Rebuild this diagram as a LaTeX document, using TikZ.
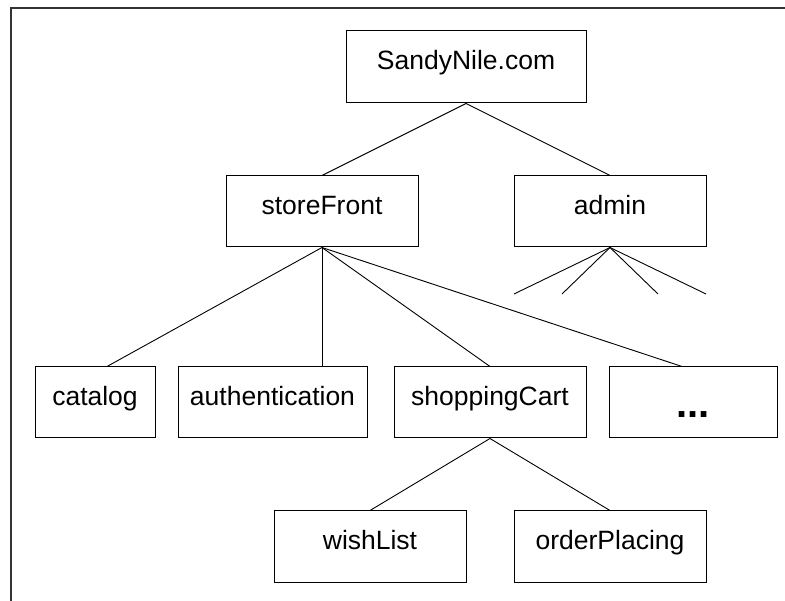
\documentclass[tikz,border=0pt]{standalone}
\usepackage{fontspec}
\setmainfont{Liberation Sans}
\begin{document}
\begin{tikzpicture}[x=1pt,y=-1pt,
  box/.style={draw=black, line width=1pt, inner sep=0pt, minimum height=71pt,
    text height=0.72em, text depth=0.21em,
    font=\fontsize{26.5}{30}\selectfont},
  link/.style={draw=black, line width=0.9pt}]
\useasboundingbox (0,0) rectangle (785,601);
\draw[line width=2pt, color=black!80] (11,601) -- (11,8) -- (785,8);

\node[box, minimum width=240pt, minimum height=72pt] (top) at (466,67) {SandyNile.com};
\node[box, minimum width=192pt] (sf) at (322,211.5) {storeFront};
\node[box, minimum width=192pt] (admin) at (610,211.5) {admin};
\node[box, minimum width=120pt] (catalog) at (95,402.5) {catalog};
\node[box, minimum width=189pt] (auth) at (272.5,402.5) {authentication};
\node[box, minimum width=192pt] (cart) at (490,402.5) {shoppingCart};
\node[box, minimum width=168pt] (more) at (693,402.5) {};
\node[font=\fontsize{40}{44}\selectfont\bfseries, inner sep=0pt, anchor=base] (dots) at (693,418) {...};
\node[box, minimum width=192pt] (wish) at (370,546.5) {wishList};
\node[box, minimum width=192pt] (order) at (610,546.5) {orderPlacing};

\coordinate (a1) at (514,294);
\coordinate (a2) at (562,294);
\coordinate (a3) at (658,294);
\coordinate (a4) at (706,294);

\draw[link] (top.south) -- (sf.north);
\draw[link] (top.south) -- (admin.north);
\draw[link] (sf.south) -- ([xshift=12pt]catalog.north);
\draw[link] (sf.south) -- (sf.south |- auth.north);
\draw[link] (sf.south) -- (cart.north);
\draw[link] (sf.south) -- ([xshift=-11pt]more.north);
\draw[link] (admin.south) -- (a1);
\draw[link] (admin.south) -- (a2);
\draw[link] (admin.south) -- (a3);
\draw[link] (admin.south) -- (a4);
\draw[link] (cart.south) -- (wish.north);
\draw[link] (cart.south) -- (order.north);
\end{tikzpicture}
\end{document}
